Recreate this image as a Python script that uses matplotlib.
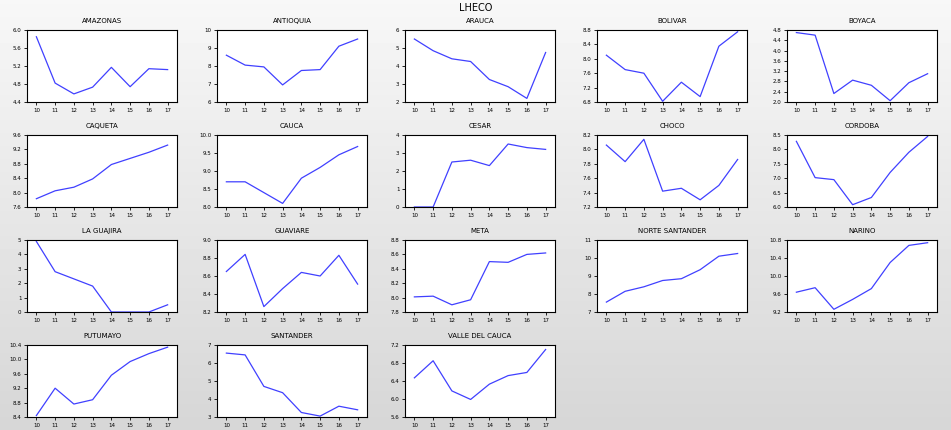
import numpy as np
import matplotlib.pyplot as plt

years = ['10', '11', '12', '13', '14', '15', '16', '17']
names = ['AMAZONAS', 'ANTIOQUIA', 'ARAUCA', 'BOLIVAR', 'BOYACA',
         'CAQUETA', 'CAUCA', 'CESAR', 'CHOCO', 'CORDOBA',
         'LA GUAJIRA', 'GUAVIARE', 'META', 'NORTE SANTANDER', 'NARINO',
         'PUTUMAYO', 'SANTANDER', 'VALLE DEL CAUCA']
amazonas = [5.85, 4.82, 4.58, 4.73, 5.17, 4.74, 5.14, 5.12]
antioquia = [8.6, 8.05, 7.95, 6.95, 7.75, 7.8, 9.1, 9.5]
arauca = [5.5, 4.85, 4.4, 4.25, 3.25, 2.85, 2.2, 4.75]
bolivar = [8.1, 7.7, 7.6, 6.82, 7.35, 6.95, 8.35, 8.75]
boyaca = [4.7, 4.6, 2.33, 2.85, 2.65, 2.05, 2.75, 3.1]
caqueta = [7.83, 8.05, 8.15, 8.38, 8.78, 8.95, 9.12, 9.32]
cauca = [8.7, 8.7, 8.4, 8.1, 8.8, 9.1, 9.45, 9.68]
cesar = [0, 0, 2.5, 2.6, 2.3, 3.5, 3.3, 3.2]
choco = [8.06, 7.83, 8.14, 7.42, 7.46, 7.3, 7.5, 7.86]
cordoba = [8.28, 7.02, 6.95, 6.08, 6.33, 7.2, 7.9, 8.45]
guajira = [4.9, 2.8, 2.3, 1.8, 0, 0, 0, 0.5]
guaviare = [8.65, 8.84, 8.26, 8.46, 8.64, 8.6, 8.83, 8.51]
meta = [8.01, 8.02, 7.9, 7.97, 8.5, 8.49, 8.6, 8.62]
norte = [7.55, 8.15, 8.4, 8.75, 8.85, 9.35, 10.1, 10.25]
narino = [9.64, 9.74, 9.26, 9.48, 9.72, 10.3, 10.68, 10.74]
putumayo = [8.44, 9.2, 8.76, 8.88, 9.56, 9.94, 10.16, 10.34]
santander = [6.55, 6.45, 4.7, 4.35, 3.25, 3.05, 3.6, 3.4]
valle = [6.47, 6.85, 6.18, 5.99, 6.33, 6.52, 6.59, 7.1]
series = [amazonas, antioquia, arauca, bolivar, boyaca, caqueta, cauca, cesar,
          choco, cordoba, guajira, guaviare, meta, norte, narino, putumayo,
          santander, valle]
# y-axis ticks for each panel
yticks = [np.arange(4.4, 6.01, 0.4), np.arange(6, 10.1, 1), np.arange(2, 6.1, 1),
          np.arange(6.8, 8.81, 0.4), np.arange(2.0, 4.81, 0.4), np.arange(7.6, 9.61, 0.4),
          np.arange(8.0, 10.01, 0.5), np.arange(0, 4.1, 1), np.arange(7.2, 8.21, 0.2),
          np.arange(6.0, 8.51, 0.5), np.arange(0, 5.1, 1), np.arange(8.2, 9.01, 0.2),
          np.arange(7.8, 8.81, 0.2), np.arange(7, 11.1, 1), np.arange(9.2, 10.81, 0.4),
          np.arange(8.4, 10.41, 0.4), np.arange(3, 7.1, 1), np.arange(5.6, 7.21, 0.4)]
fmt = ['%.1f', '%d', '%d', '%.1f', '%.1f', '%.1f', '%.1f', '%d', '%.1f',
       '%.1f', '%d', '%.1f', '%.1f', '%d', '%.1f', '%.1f', '%d', '%.1f']

fig = plt.figure(figsize=(9.51, 4.30), dpi=100)
bg = fig.add_axes([0, 0, 1, 1])
grad = np.linspace(0.97, 0.84, 100).reshape(-1, 1)
bg.imshow(grad, cmap='gray', vmin=0, vmax=1, aspect='auto', extent=[0, 1, 0, 1])
bg.axis('off')
fig.text(0.5, 0.982, 'LHECO', ha='center', va='center', fontsize=7)

lefts = [27, 217, 405, 597, 787]
tops = [30, 135, 240, 345]
w, h = 150, 72
x = np.arange(len(years))
for i, (name, y) in enumerate(zip(names, series)):
    r, c = divmod(i, 5)
    ax = fig.add_axes([lefts[c] / 951, 1 - (tops[r] + h) / 430, w / 951, h / 430])
    ax.plot(x, y, color='#4040ff', lw=0.9)
    ax.set_xlim(-0.5, 7.5)
    t = yticks[i]
    ax.set_ylim(t[0], t[-1])
    ax.set_yticks(t)
    ax.set_yticklabels([fmt[i] % v for v in t])
    ax.set_xticks(x)
    ax.set_xticklabels(years)
    ax.tick_params(labelsize=4, length=2, width=0.6, pad=2)
    ax.set_title(name, fontsize=5, pad=5)
    for s in ax.spines.values():
        s.set_linewidth(0.8)
fig.savefig('out.png', dpi=100)
